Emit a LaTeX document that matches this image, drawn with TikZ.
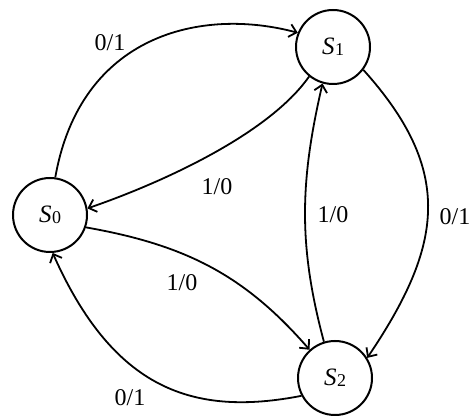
\documentclass[tikz,border=0pt]{standalone}
\usepackage{fontspec}
\setmainfont{Liberation Serif}
\usetikzlibrary{arrows.meta}
\newcommand{\stname}[1]{{\fontsize{25}{28}\selectfont\itshape S}\kern0.5pt\raisebox{-0.25ex}{\fontsize{18}{20}\selectfont #1}}
\begin{document}
\begin{tikzpicture}[x=1pt,y=1pt,
  state/.style={circle,draw,line width=2pt,minimum size=74pt,inner sep=0pt},
  edge/.style={line width=1.8pt,-{Straight Barb[length=7pt,width=13pt,line width=1.8pt]}},
  lbl/.style={font=\fontsize{24}{28}\selectfont,inner sep=0pt}]
\useasboundingbox (0,0) rectangle (471,415);
\node[state] (s0) at (50,200) {\stname{0}};
\node[state] (s1) at (333,368) {\stname{1}};
\node[state] (s2) at (335,37) {\stname{2}};
\draw[edge] (s0.82) .. controls +(80:145) and +(165:100) .. (s1.158);
\draw[edge] (s1.231) .. controls +(235:70) and +(19:80) .. (s0.10);
\draw[edge] (s2.107) .. controls +(105:100) and +(257:100) .. (s1.254);
\draw[edge] (s1.323) .. controls +(312:136) and +(56:136) .. (s2.32);
\draw[edge] (s0.341) .. controls +(-10:100) and +(131:100) .. (s2.132);
\draw[edge] (s2.208) .. controls +(191:110) and +(294:150) .. (s0.274);
\node[lbl] (l1) at (110,372) {0/1};
\node[lbl] (l2) at (217,228) {1/0};
\node[lbl] (l3) at (333,200) {1/0};
\node[lbl] (l4) at (455,198) {0/1};
\node[lbl] (l5) at (182,132) {1/0};
\node[lbl] (l6) at (130,17) {0/1};
\end{tikzpicture}
\end{document}
